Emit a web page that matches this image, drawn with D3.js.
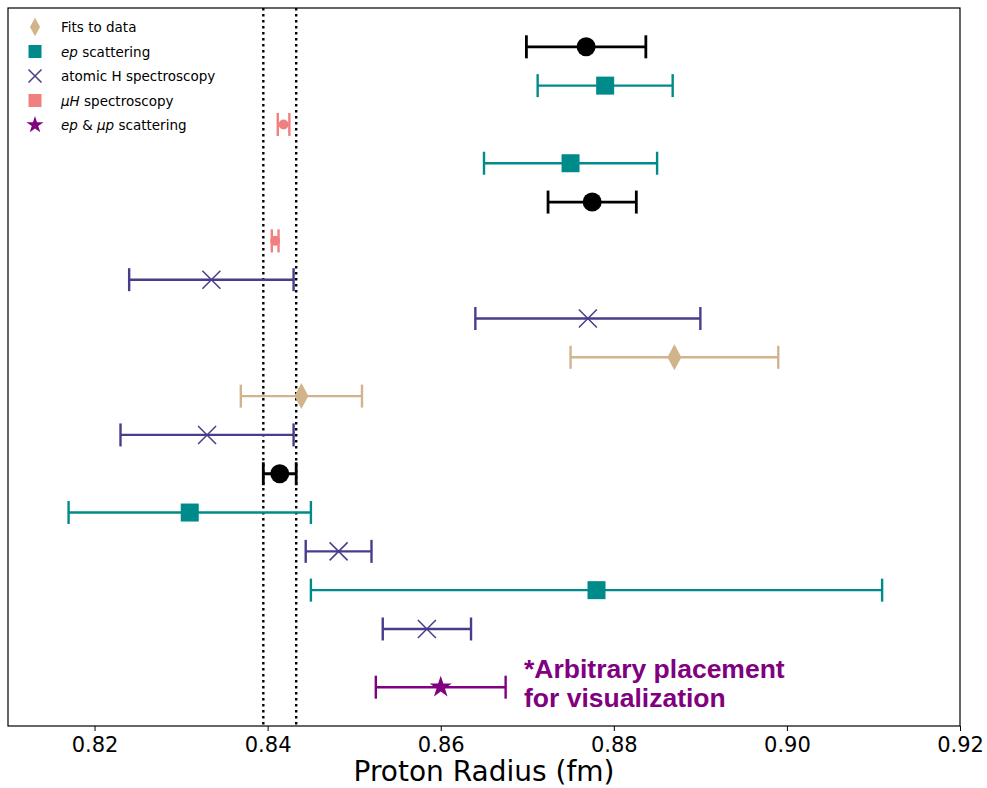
<!DOCTYPE html>
<html>
<head>
<meta charset="utf-8">
<script src="https://cdn.jsdelivr.net/npm/d3@7"></script>
<style>
  body { margin: 0; background: #fff; }
  text { font-family: "DejaVu Sans", sans-serif; }
  text.note { font-family: "Liberation Sans", Arial, sans-serif; font-weight: bold; }
</style>
</head>
<body>
<div id="chart"></div>
<script>
// one entry per row, top to bottom
var kinds  = ["codata", "ep", "muH", "ep", "codata", "muH", "H", "H", "fit", "fit", "H", "codata", "ep", "H", "ep", "H", "epmup"];
var radius = [0.8768, 0.879, 0.84184, 0.875, 0.8775, 0.84087, 0.8335, 0.877, 0.887, 0.8439, 0.833, 0.8414, 0.831, 0.8482, 0.878, 0.8584, 0.860];
var errs   = [0.0069, 0.0078, 0.00067, 0.010, 0.0051, 0.00039, 0.0095, 0.013, 0.012, 0.0070, 0.010, 0.0019, 0.014, 0.0038, 0.033, 0.0051, 0.0075];
var rows   = [0, 1, 2, 3, 4, 5, 6, 7, 8, 9, 10, 11, 12, 13, 14, 15, 16.5];

var bandLines = [0.8395, 0.8433];
var xTicks = [0.82, 0.84, 0.86, 0.88, 0.90, 0.92];

var legendKinds = ["fit", "ep", "H", "muH", "epmup"];
var legendLabels = [
  [["Fits to data", false]],
  [["ep", true], [" scattering", false]],
  [["atomic H spectroscopy", false]],
  [["\u03bcH", true], [" spectroscopy", false]],
  [["ep", true], [" & ", false], ["\u03bcp", true], [" scattering", false]]
];

var colors = {codata: "#000000", ep: "#008b8b", muH: "#f08080", H: "#483d8b", fit: "#d2b48c", epmup: "#800080"};

var W = 987, H = 788;
var m = {l: 8, r: 27, t: 8, b: 62};

var svg = d3.select("#chart").append("svg")
    .attr("width", W).attr("height", H);

var x = d3.scaleLinear().domain([0.81, 0.92]).range([m.l, W - m.r]);
var y = d3.scaleLinear().domain([-1, 17.5]).range([m.t, H - m.b]);

// reference band (dotted)
svg.selectAll(".band").data(bandLines).enter().append("line")
    .attr("x1", function(d){ return x(d); }).attr("x2", function(d){ return x(d); })
    .attr("y1", m.t).attr("y2", H - m.b)
    .attr("stroke", "#000").attr("stroke-width", 2.4)
    .attr("stroke-dasharray", "2.4,3.6");

function drawMarker(g, kind, big){
    var c = colors[kind];
    var s = big ? 1 : 0.72;
    if (kind == "codata") {
        g.append("circle").attr("r", 9.5).attr("fill", c);
    } else if (kind == "ep" || (kind == "muH" && !big)) {
        var a = big ? 18 : 13;
        g.append("rect").attr("x", -a/2).attr("y", -a/2).attr("width", a).attr("height", a)
            .attr("fill", c);
    } else if (kind == "muH") {
        g.append("circle").attr("r", 5).attr("fill", c);
    } else if (kind == "H") {
        var h = big ? 9 : 6.5;
        g.append("path").attr("d", "M" + -h + "," + -h + "L" + h + "," + h + "M" + -h + "," + h + "L" + h + "," + -h)
            .attr("stroke", c).attr("stroke-width", 1.5).attr("fill", "none");
    } else if (kind == "fit") {
        var w = 7 * s, hh = 13 * s;
        g.append("path").attr("d", "M0," + -hh + "L" + w + ",0L0," + hh + "L" + -w + ",0Z")
            .attr("fill", c);
    } else if (kind == "epmup") {
        g.append("path").attr("d", d3.symbol().type(d3.symbolStar).size(big ? 150 : 90)())
            .attr("fill", c);
    }
}

// error bars + markers
var pts = svg.selectAll(".pt").data(kinds).enter().append("g")
    .attr("class", "pt");

pts.each(function(k, i){
    var g = d3.select(this), c = colors[k];
    var x0 = x(radius[i] - errs[i]), x1 = x(radius[i] + errs[i]), yy = y(rows[i]);
    var lw = k == "codata" ? 2.8 : 2.4;
    g.append("line").attr("x1", x0).attr("x2", x1).attr("y1", yy).attr("y2", yy)
        .attr("stroke", c).attr("stroke-width", lw);
    [x0, x1].forEach(function(xc){
        g.append("line").attr("x1", xc).attr("x2", xc).attr("y1", yy - 11.5).attr("y2", yy + 11.5)
            .attr("stroke", c).attr("stroke-width", lw);
    });
    var mk = g.append("g").attr("transform", "translate(" + x(radius[i]) + "," + yy + ")");
    drawMarker(mk, k, true);
});

// frame
svg.append("rect").attr("x", m.l).attr("y", m.t)
    .attr("width", W - m.l - m.r).attr("height", H - m.t - m.b)
    .attr("fill", "none").attr("stroke", "#000").attr("stroke-width", 1.2);

// x axis
var xAxis = svg.append("g").attr("transform", "translate(0," + (H - m.b) + ")")
    .call(d3.axisBottom(x).tickValues(xTicks).tickFormat(d3.format(".2f")).tickSize(5).tickPadding(6));
xAxis.select(".domain").remove();
xAxis.selectAll("text").attr("font-size", 21).attr("fill", "#000");
xAxis.selectAll("line").attr("stroke", "#000").attr("stroke-width", 1);

svg.append("text").attr("x", (m.l + W - m.r) / 2).attr("y", 781)
    .attr("text-anchor", "middle").attr("font-size", 28).attr("fill", "#000")
    .text("Proton Radius (fm)");

// note
var note = svg.append("text").attr("class", "note").attr("x", 524).attr("y", 678)
    .attr("font-size", 26.5).attr("fill", "#800080");
note.append("tspan").attr("x", 524).text("*Arbitrary placement");
note.append("tspan").attr("x", 524).attr("dy", 29).text("for visualization");

// legend
var leg = svg.selectAll(".leg").data(legendKinds).enter().append("g")
    .attr("class", "leg")
    .attr("transform", function(d, i){ return "translate(35," + (27 + i * 24.5) + ")"; });

leg.each(function(k){ drawMarker(d3.select(this), k, false); });

leg.append("text").attr("x", 26).attr("y", 5).attr("font-size", 13.5).attr("fill", "#000")
    .each(function(k, i){
        var t = d3.select(this);
        legendLabels[i].forEach(function(p){
            t.append("tspan").attr("font-style", p[1] ? "italic" : "normal").text(p[0]);
        });
    });
</script>
</body>
</html>
